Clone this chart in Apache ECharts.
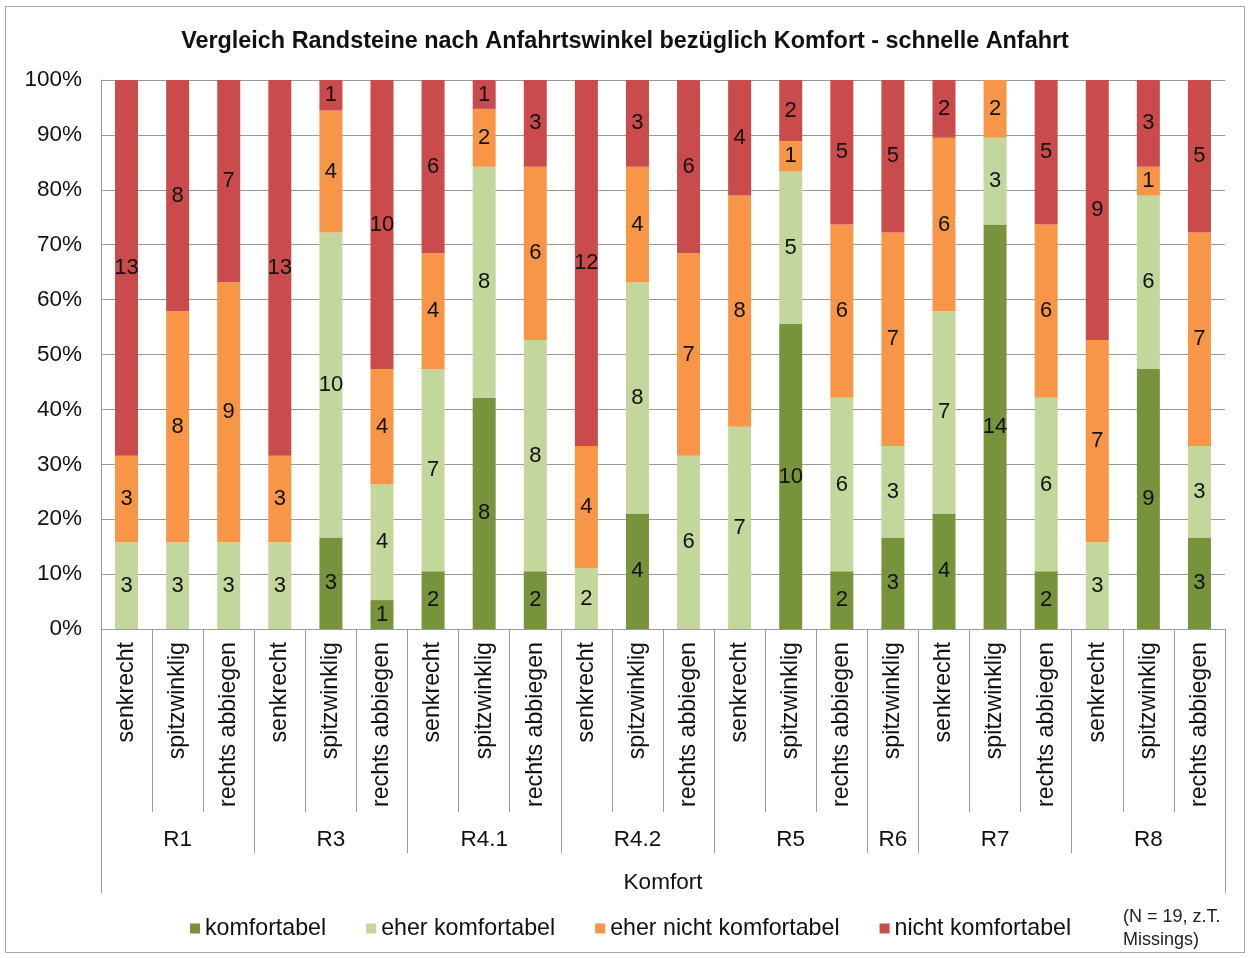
<!DOCTYPE html>
<html>
<head>
<meta charset="utf-8">
<script src="https://cdn.jsdelivr.net/npm/echarts@6/dist/echarts.min.js"></script>
<style>
html,body{margin:0;padding:0;background:#fff;}
#chart{width:1250px;height:958px;}
#frame{position:absolute;left:5px;top:6px;width:1238px;height:945px;border:1.5px solid #a8a8a8;pointer-events:none;}
</style>
</head>
<body>
<div id="chart"></div>
<div id="frame"></div>
<script>
// categories
const subCategories = ['senkrecht','spitzwinklig','rechts abbiegen','senkrecht','spitzwinklig','rechts abbiegen','senkrecht','spitzwinklig','rechts abbiegen','senkrecht','spitzwinklig','rechts abbiegen','senkrecht','spitzwinklig','rechts abbiegen','spitzwinklig','senkrecht','spitzwinklig','rechts abbiegen','senkrecht','spitzwinklig','rechts abbiegen'];
const groupNames = ['R1','R3','R4.1','R4.2','R5','R6','R7','R8'];
const groupSizes = [3,3,3,3,3,1,3,3];
const seriesNames = ['komfortabel','eher komfortabel','eher nicht komfortabel','nicht komfortabel'];
// counts per answer (N = 19, partly missings)
const komfortabel         = [0,0,0, 0,3,1, 2,8,2, 0,4,0, 0,10,2, 3, 4,14,2, 0,9,3];
const eherKomfortabel     = [3,3,3, 3,10,4, 7,8,8, 2,8,6, 7,5,6, 3, 7,3,6, 3,6,3];
const eherNichtKomfortabel= [3,8,9, 3,4,4, 4,2,6, 4,4,7, 8,1,6, 7, 6,2,6, 7,1,7];
const nichtKomfortabel    = [13,8,7, 13,1,10, 6,1,3, 12,3,6, 4,2,5, 5, 2,0,5, 9,3,5];
const yTicks = [0,10,20,30,40,50,60,70,80,90,100];
const colors = ['#77933C','#C3D69B','#F79646','#C94B4C'];

const counts = [komfortabel, eherKomfortabel, eherNichtKomfortabel, nichtKomfortabel];
const totals = subCategories.map((_, i) => counts.reduce((s, arr) => s + arr[i], 0));

// group boundaries and centers
const boundaries = [];
const centers = {};
let acc = 0;
groupSizes.forEach((n, g) => {
  if (acc > 0) boundaries.push(acc);
  centers[acc + Math.floor((n - 1) / 2)] = groupNames[g];
  acc += n;
});

const FONT = 'Liberation Sans, Arial, sans-serif';

const series = seriesNames.map((name, s) => ({
  name: name,
  type: 'bar',
  stack: 'total',
  barWidth: '45%',
  itemStyle: { color: colors[s] },
  label: {
    show: true,
    position: 'inside',
    fontFamily: FONT,
    fontSize: 22,
    color: '#111',
    formatter: p => counts[s][p.dataIndex] ? String(counts[s][p.dataIndex]) : ''
  },
  data: counts[s].map((c, i) => c / totals[i] * 100)
}));

const chart = echarts.init(document.getElementById('chart'));
chart.setOption({
  animation: false,
  backgroundColor: '#fff',
  textStyle: { fontFamily: FONT },
  title: [{
    text: 'Vergleich Randsteine nach Anfahrtswinkel bezüglich Komfort - schnelle Anfahrt',
    left: 'center',
    top: 25,
    textStyle: { fontFamily: FONT, fontSize: 23.4, fontWeight: 'bold', color: '#111' }
  }, {
    text: '(N = 19, z.T.\nMissings)',
    left: 1118,
    top: 901,
    textStyle: { fontFamily: FONT, fontSize: 18, fontWeight: 'normal', color: '#222', lineHeight: 23 }
  }],
  legend: {
    left: 185,
    top: 912,
    icon: 'rect',
    itemWidth: 10,
    itemHeight: 10,
    itemGap: 40,
    data: seriesNames,
    textStyle: { fontFamily: FONT, fontSize: 23.2, color: '#111', padding: [0,0,0,0] }
  },
  grid: { left: 101, right: 25, top: 80, bottom: 329, outerBoundsMode: 'none' },
  yAxis: {
    type: 'value',
    min: 0, max: 100, interval: 10,
    axisLine: { show: true, lineStyle: { color: '#9a9a9a', width: 1 } },
    axisTick: { show: false },
    splitLine: { show: true, lineStyle: { color: '#9a9a9a', width: 1 } },
    axisLabel: { formatter: v => yTicks.includes(v) ? v + '%' : '', fontFamily: FONT, fontSize: 22.5, color: '#111', margin: 19 }
  },
  xAxis: [{
    type: 'category',
    position: 'bottom',
    data: subCategories,
    axisLine: { show: true, lineStyle: { color: '#9a9a9a' } },
    axisTick: { show: true, interval: 0, length: 183, lineStyle: { color: '#9a9a9a' } },
    axisLabel: { interval: 0, rotate: 90, fontFamily: FONT, fontSize: 23.2, color: '#111', margin: 13 }
  }, {
    type: 'category',
    position: 'bottom',
    data: subCategories,
    axisLine: { show: false },
    axisTick: { show: true, interval: (i) => boundaries.includes(i), length: 224, lineStyle: { color: '#9a9a9a' } },
    axisLabel: { interval: (i) => centers[i] !== undefined, formatter: (v, i) => centers[i] || '', fontFamily: FONT, fontSize: 22.5, color: '#111', margin: 199 }
  }, {
    type: 'category',
    position: 'bottom',
    data: subCategories,
    name: 'Komfort',
    nameLocation: 'middle',
    nameGap: 242,
    nameTextStyle: { fontFamily: FONT, fontSize: 22.5, color: '#111' },
    axisLine: { show: false },
    axisTick: { show: true, interval: (i) => i === 0, length: 264, lineStyle: { color: '#9a9a9a' } },
    axisLabel: { show: false }
  }],
  series: series
});
</script>
</body>
</html>
